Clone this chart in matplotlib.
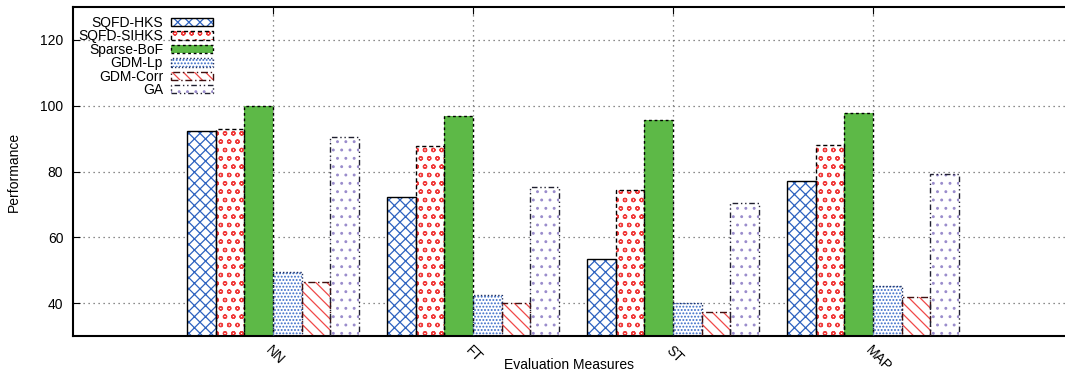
import numpy as np
import matplotlib.pyplot as plt
from matplotlib.patches import Patch
from matplotlib.transforms import ScaledTranslation

plt.rcParams['font.family'] = ['Liberation Sans', 'DejaVu Sans']
plt.rcParams['hatch.linewidth'] = 0.9

# data
measures = ['NN', 'FT', 'ST', 'MAP']
methods = ['SQFD-HKS', 'SQFD-SIHKS', 'Sparse-BoF', 'GDM-Lp', 'GDM-Corr', 'GA']
sqfd_hks = [92.4, 72.1, 53.4, 77.0]
sqfd_sihks = [93.0, 87.6, 74.5, 88.2]
sparse_bof = [100.0, 97.0, 95.6, 97.7]
gdm_lp = [49.6, 42.6, 40.0, 45.1]
gdm_corr = [46.3, 39.9, 37.2, 41.9]
ga = [90.4, 75.4, 70.5, 79.2]
series = [sqfd_hks, sqfd_sihks, sparse_bof, gdm_lp, gdm_corr, ga]

# style per series: fill, hatch colour, hatch, edge colour, edge style
styles = [
    ('white', '#2d62c0', 'xxx', 'black', '-'),
    ('white', '#f03a3a', 'oo', 'black', (0, (3, 2))),
    ('#5db947', '#5db947', None, 'black', (0, (2, 2))),
    ('white', '#3a6cc8', '.....', '#203060', (0, (1, 1.5))),
    ('white', '#f04848', '\\\\\\', '#401010', (0, (5, 2, 1, 2))),
    ('white', '#9a8ccc', '..', '#202030', (0, (4, 2, 1, 2, 1, 2))),
]

x = np.arange(1, len(measures) + 1)
w = 0.1433

fig = plt.figure(figsize=(10.65, 3.76), dpi=100)
ax = fig.add_axes([73/1065, 40/376, 1 - 73/1065, 329/376])

handles = []
for i, (vals, st) in enumerate(zip(series, styles)):
    face, hcol, hatch, ecol, ls = st
    pos = x + (i - 2.5) * w
    ax.bar(pos, np.array(vals) - 30, w, bottom=30, color=face, edgecolor=hcol,
           hatch=hatch, linewidth=0, zorder=2)
    ax.bar(pos, np.array(vals) - 30, w, bottom=30, fill=False, edgecolor=ecol,
           linestyle=ls, linewidth=1.0, zorder=3)
    h1 = Patch(facecolor=face, edgecolor=hcol, hatch=hatch, linewidth=0)
    h2 = Patch(fill=False, edgecolor=ecol, linestyle=ls, linewidth=1.0)
    handles.append((h1, h2))

ax.set_xlim(0, 4.96)
ax.set_ylim(30, 130)
ax.set_yticks([40, 60, 80, 100, 120])
ax.set_xticks(x)
ax.set_xticklabels(measures, rotation=-45, ha='left', va='top',
                   rotation_mode='anchor')
off = ScaledTranslation(4/100, 2/100, fig.dpi_scale_trans)
for lbl in ax.get_xticklabels():
    lbl.set_transform(lbl.get_transform() + off)
ax.tick_params(axis='y', direction='in', length=5, labelsize=10, pad=7)
ax.tick_params(axis='x', direction='in', length=5, labelsize=10, top=True,
               pad=5)
ax.set_axisbelow(True)
ax.grid(True, color='#666666', linestyle=(0, (1, 3)), linewidth=0.9)
ax.spines['right'].set_visible(False)
for s in ['left', 'top', 'bottom']:
    ax.spines[s].set_linewidth(1.5)

ax.set_ylabel('Performance', fontsize=10, labelpad=14)
ax.set_xlabel('Evaluation Measures', fontsize=10)
ax.xaxis.set_label_coords(0.5, (336 - 358) / 329)

ax.legend(handles, methods, loc='upper right', frameon=False,
          markerfirst=False, fontsize=10, borderpad=0,
          bbox_to_anchor=((220 - 73) / 992, (336 - 9) / 329),
          handlelength=3.0, handleheight=0.55, labelspacing=-0.04,
          handletextpad=0.6)

fig.savefig('out.png', dpi=100)
